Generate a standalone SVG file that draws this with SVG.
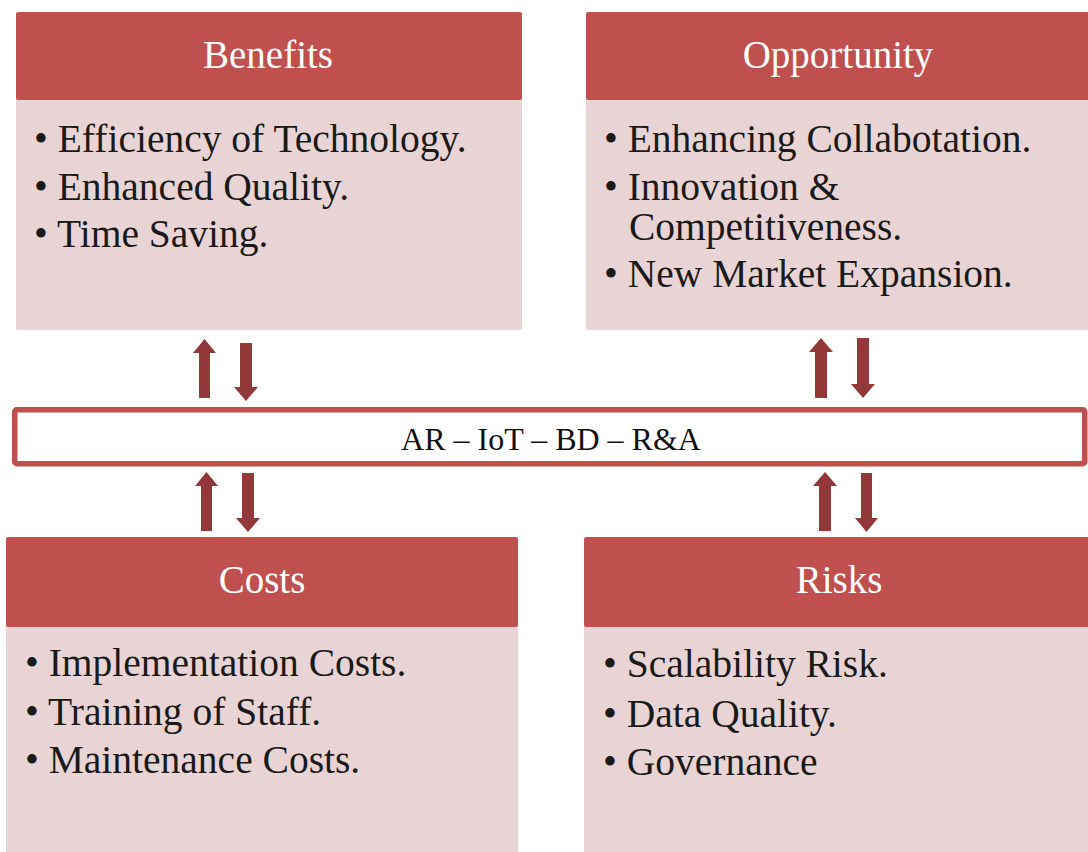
<svg xmlns="http://www.w3.org/2000/svg" width="1088" height="852" viewBox="0 0 1088 852">
  <style>
    .head { fill: #C0504D; }
    .body { fill: #E8D4D4; }
    .title { font-family: 'Liberation Serif', 'Times New Roman', Times, serif; font-size: 39px; fill: #FFFFFF; text-anchor: middle; }
    .item { font-family: 'Liberation Serif', 'Times New Roman', Times, serif; font-size: 39.5px; fill: #1A1A1A; }
    .hub { fill: #FFFFFF; stroke: #C0504D; stroke-width: 5.5; }
    .hubtext { font-family: 'Liberation Serif', 'Times New Roman', Times, serif; font-size: 32px; fill: #111111; text-anchor: middle; }
    .arrow { fill: #923838; }
  </style>

  <!-- Benefits -->
  <g id="benefits">
    <rect class="body" x="16" y="98" width="506" height="232" rx="2"/>
    <rect class="head" x="16" y="12" width="506" height="88" rx="2"/>
    <text class="title" x="268" y="68">Benefits</text>
    <text class="item" x="34" y="152">• Efficiency of Technology.</text>
    <text class="item" x="34" y="200">• Enhanced Quality.</text>
    <text class="item" x="34" y="247">• Time Saving.</text>
  </g>

  <!-- Opportunity -->
  <g id="opportunity">
    <rect class="body" x="586" y="98" width="506" height="232" rx="2"/>
    <rect class="head" x="586" y="12" width="506" height="88" rx="2"/>
    <text class="title" x="838" y="68">Opportunity</text>
    <text class="item" x="604" y="152">• Enhancing Collabotation.</text>
    <text class="item" x="604" y="200">• Innovation &amp;</text>
    <text class="item" x="629" y="240">Competitiveness.</text>
    <text class="item" x="604" y="287">• New Market Expansion.</text>
  </g>

  <!-- Central technology band -->
  <g id="hub">
    <rect class="hub" x="14.75" y="409.75" width="1070" height="54" rx="2"/>
    <text class="hubtext" x="551" y="450">AR – IoT – BD – R&amp;A</text>
  </g>

  <!-- Costs -->
  <g id="costs">
    <rect class="body" x="6" y="625" width="512" height="240" rx="2"/>
    <rect class="head" x="6" y="537" width="512" height="90" rx="2"/>
    <text class="title" x="262" y="593">Costs</text>
    <text class="item" x="25" y="676">• Implementation Costs.</text>
    <text class="item" x="25" y="725">• Training of Staff.</text>
    <text class="item" x="25" y="773">• Maintenance Costs.</text>
  </g>

  <!-- Risks -->
  <g id="risks">
    <rect class="body" x="584" y="625" width="510" height="240" rx="2"/>
    <rect class="head" x="584" y="537" width="510" height="90" rx="2"/>
    <text class="title" x="839" y="593">Risks</text>
    <text class="item" x="603" y="677">• Scalability Risk.</text>
    <text class="item" x="603" y="727">• Data Quality.</text>
    <text class="item" x="603" y="775">• Governance</text>
  </g>

  <!-- Two-way block arrows between the band and each box -->
  <g id="connectors">
    <!-- Benefits -->
    <path class="arrow" d="M199,398 V353 H193 L204.5,339 L216,353 H210 V398 Z"/>
    <path class="arrow" d="M240,343 V387 H234 L246,401 L258,387 H252 V343 Z"/>
    <!-- Opportunity -->
    <path class="arrow" d="M815,398 V352 H809 L821,338 L833,352 H827 V398 Z"/>
    <path class="arrow" d="M857,338 V384 H851 L863,398 L875,384 H869 V338 Z"/>
    <!-- Costs -->
    <path class="arrow" d="M201,531 V486 H195 L206.5,472 L218,486 H212 V531 Z"/>
    <path class="arrow" d="M242,473 V518 H236 L248,532 L260,518 H254 V473 Z"/>
    <!-- Risks -->
    <path class="arrow" d="M819,531 V486 H813 L825,472 L837,486 H831 V531 Z"/>
    <path class="arrow" d="M861,473 V518 H855 L866.5,532 L878,518 H872 V473 Z"/>
  </g>
</svg>
